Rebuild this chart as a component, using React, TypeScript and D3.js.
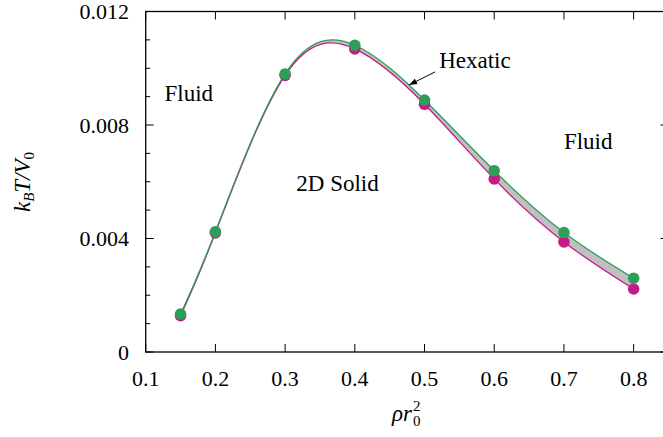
import React from "react";
import * as d3 from "d3";

const density = [0.15, 0.2, 0.3, 0.4, 0.5, 0.6, 0.7, 0.8];
const upperT = [0.00134, 0.00424, 0.0098, 0.01081, 0.00888, 0.00639, 0.00421, 0.0026];
const lowerT = [0.00128, 0.0042, 0.00975, 0.01068, 0.00873, 0.0061, 0.00388, 0.00222];
const xTicks = [0.1, 0.2, 0.3, 0.4, 0.5, 0.6, 0.7, 0.8];
const xTickLabels = ["0.1", "0.2", "0.3", "0.4", "0.5", "0.6", "0.7", "0.8"];
const yTicks = [0, 0.004, 0.008, 0.012];
const yTickLabels = ["0", "0.004", "0.008", "0.012"];
const yMinor = [0.001, 0.002, 0.003, 0.005, 0.006, 0.007, 0.009, 0.01, 0.011];

const W = 663;
const H = 437;
const left = 145.7;
const top = 11.5;
const bottom = 352;
const right = 668.5;

const GREEN = "#2e9e58";
const MAGENTA = "#c51b8a";
const SERIF = "'Liberation Serif', 'DejaVu Serif', serif";
const ts: React.CSSProperties = { fontFamily: SERIF };

export default function App() {
  const x = d3.scaleLinear().domain([0.1, 0.85]).range([left, right]);
  const y = d3.scaleLinear().domain([0, 0.012]).range([bottom, top]);
  const idx = density.map((_, i) => i);
  const curve = d3.curveNatural;
  const lineU = d3.line<number>().x((i) => x(density[i])).y((i) => y(upperT[i])).curve(curve);
  const lineL = d3.line<number>().x((i) => x(density[i])).y((i) => y(lowerT[i])).curve(curve);
  const band = d3
    .area<number>()
    .x((i) => x(density[i]))
    .y0((i) => y(lowerT[i]))
    .y1((i) => y(upperT[i]))
    .curve(curve);

  const arrowFrom = [0.515, 0.00987];
  const arrowTo = [0.4778, 0.00941];
  const ax1 = x(arrowFrom[0]), ay1 = y(arrowFrom[1]);
  const ax2 = x(arrowTo[0]), ay2 = y(arrowTo[1]);
  const ang = Math.atan2(ay2 - ay1, ax2 - ax1);
  const hl = 8, hw = 3;
  const head = [
    [ax2, ay2],
    [ax2 - hl * Math.cos(ang) + hw * Math.sin(ang), ay2 - hl * Math.sin(ang) - hw * Math.cos(ang)],
    [ax2 - hl * Math.cos(ang) - hw * Math.sin(ang), ay2 - hl * Math.sin(ang) + hw * Math.cos(ang)],
  ];

  const xlX = 392;
  const xlY = 421;

  return (
    <svg
      width={W}
      height={H}
      style={{ position: "absolute", left: 0, top: 0, background: "#fff" }}
    >
      <defs>
        <clipPath id="clip">
          <rect x={left} y={top} width={right - left} height={bottom - top} />
        </clipPath>
      </defs>
      <g clipPath="url(#clip)">
        <path d={band(idx) || ""} fill="#c0c0c0" />
        <path d={lineL(idx) || ""} fill="none" stroke={MAGENTA} strokeWidth={1.3} />
        <path d={lineU(idx) || ""} fill="none" stroke={GREEN} strokeWidth={1.3} />
        {density.map((d, i) => (
          <circle key={"m" + i} cx={x(d)} cy={y(lowerT[i])} r={5.8} fill={MAGENTA} />
        ))}
        {density.map((d, i) => (
          <circle key={"g" + i} cx={x(d)} cy={y(upperT[i])} r={5.8} fill={GREEN} />
        ))}
      </g>

      <rect x={left} y={top} width={right - left} height={bottom - top} fill="none" stroke="#000" strokeWidth={1.3} />
      {xTicks.map((t) => (
        <g key={"xt" + t}>
          <line x1={x(t)} x2={x(t)} y1={bottom} y2={bottom - 8} stroke="#000" strokeWidth={1} />
          <line x1={x(t)} x2={x(t)} y1={top} y2={top + 8} stroke="#000" strokeWidth={1} />
        </g>
      ))}
      {yTicks.map((t) => (
        <g key={"yt" + t}>
          <line x1={left} x2={left + 8} y1={y(t)} y2={y(t)} stroke="#000" strokeWidth={1} />
          <line x1={right} x2={right - 8} y1={y(t)} y2={y(t)} stroke="#000" strokeWidth={1} />
        </g>
      ))}
      {yMinor.map((t) => (
        <g key={"ym" + t}>
          <line x1={left} x2={left + 4.5} y1={y(t)} y2={y(t)} stroke="#000" strokeWidth={1} />
          <line x1={right} x2={right - 4.5} y1={y(t)} y2={y(t)} stroke="#000" strokeWidth={1} />
        </g>
      ))}

      {xTicks.map((t, i) => (
        <text key={"xl" + t} x={x(t)} y={386} textAnchor="middle" fontSize={22} style={ts}>
          {xTickLabels[i]}
        </text>
      ))}
      {yTicks.map((t, i) => (
        <text key={"yl" + t} x={129} y={y(t) + 7.5} textAnchor="end" fontSize={22} style={ts}>
          {yTickLabels[i]}
        </text>
      ))}

      <text x={xlX} y={xlY} fontSize={23} fontStyle="italic" style={ts}>ρr</text>
      <text x={xlX + 21} y={xlY + 5} fontSize={15} style={ts}>0</text>
      <text x={xlX + 21} y={xlY - 10} fontSize={15} style={ts}>2</text>

      <text transform="translate(30,182) rotate(-90)" textAnchor="middle" fontSize={23} fontStyle="italic" style={ts}>
        k<tspan fontSize={15} dy={4}>B</tspan>
        <tspan dy={-4}>T/V</tspan>
        <tspan fontSize={15} dy={4} fontStyle="normal">0</tspan>
      </text>

      <text x={x(0.127)} y={y(0.00883)} fontSize={23} style={ts}>Fluid</text>
      <text x={x(0.316)} y={y(0.00566)} fontSize={23} style={ts}>2D Solid</text>
      <text x={x(0.7)} y={y(0.00715)} fontSize={23} style={ts}>Fluid</text>
      <text x={x(0.521)} y={y(0.01)} fontSize={23} style={ts}>Hexatic</text>
      <line x1={ax1} y1={ay1} x2={ax2} y2={ay2} stroke="#000" strokeWidth={1} />
      <polygon points={head.map((p) => p.join(",")).join(" ")} fill="#000" />
    </svg>
  );
}
